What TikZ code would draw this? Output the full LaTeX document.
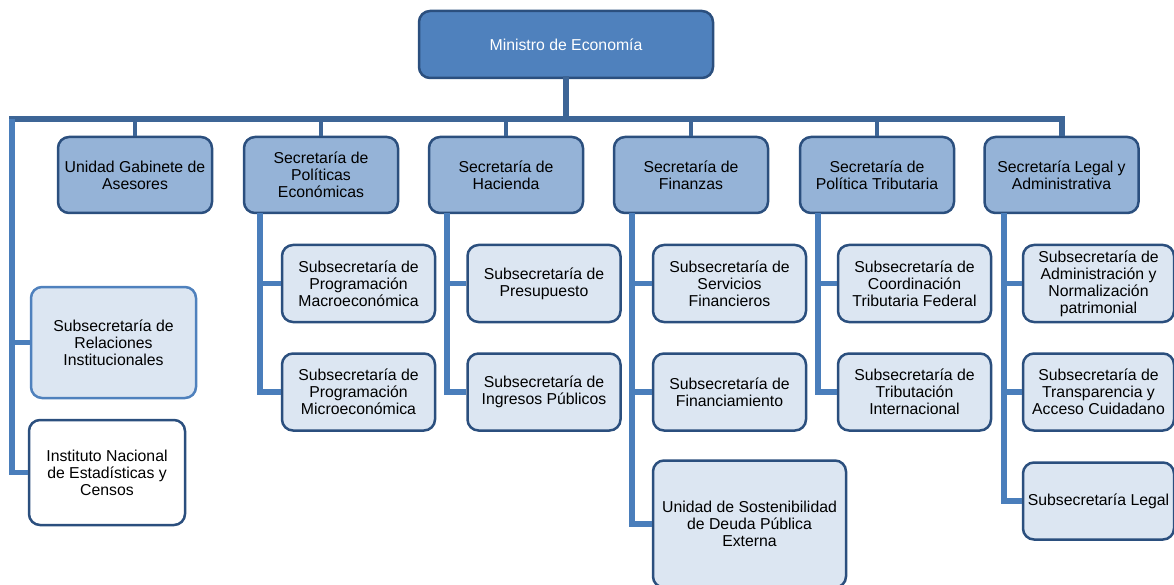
\documentclass[tikz,border=0pt]{standalone}
\usepackage{fontspec}
\setmainfont{Liberation Sans}
\definecolor{busc}{HTML}{3D6596}
\definecolor{linec}{HTML}{4A7EBB}
\definecolor{bordc}{HTML}{2B4F7E}
\definecolor{minfill}{HTML}{4F81BD}
\definecolor{secfill}{HTML}{95B3D7}
\definecolor{subfill}{HTML}{DCE6F2}
\definecolor{relbord}{HTML}{4F81BD}
\begin{document}
\begin{tikzpicture}[x=1pt,y=-1pt,
  box/.style={draw=bordc,line width=2.5pt,rounded corners=11pt,align=center,
    inner sep=0pt,font=\fontsize{15.8}{17}\selectfont},
  minbox/.style={box,fill=minfill,text=white,minimum width=294pt,minimum height=67pt},
  secbox/.style={box,fill=secfill,minimum width=154pt,minimum height=76pt},
  subbox/.style={box,fill=subfill,minimum width=153pt,minimum height=77pt},
  busline/.style={draw=busc,line width=6pt},
  dropline/.style={draw=busc,line width=4.5pt},
  childline/.style={draw=linec,line width=5.5pt}]
\useasboundingbox (0,0) rectangle (1174,585);
\clip (0,0) rectangle (1174,585);

% Minister
\node[minbox] (min) at (566,44.5) {Ministro de Economía};

% Secretarías
\node[secbox] (gab)  at (135,175)   {Unidad Gabinete de\\Asesores};
\node[secbox] (pol)  at (321,175)   {Secretaría de\\Políticas\\Económicas};
\node[secbox] (hac)  at (506,175)   {Secretaría de\\Hacienda};
\node[secbox] (fin)  at (691,175)   {Secretaría de\\Finanzas};
\node[secbox] (trib) at (877,175)   {Secretaría de\\Política Tributaria};
\node[secbox] (leg)  at (1061.5,175){Secretaría Legal y\\Administrativa};

% Subsecretarías
\node[subbox] (pmac) at (358.5,283.5) {Subsecretaría de\\Programación\\Macroeconómica};
\node[subbox] (pmic) at (358.5,392)   {Subsecretaría de\\Programación\\Microeconómica};
\node[subbox] (pres) at (544,283.5)   {Subsecretaría de\\Presupuesto};
\node[subbox] (ingr) at (544,392)     {Subsecretaría de\\Ingresos Públicos};
\node[subbox] (serv) at (729.5,283.5) {Subsecretaría de\\Servicios\\Financieros};
\node[subbox] (fina) at (729.5,392)   {Subsecretaría de\\Financiamiento};
\node[subbox,minimum width=193pt,minimum height=127pt] (sost) at (749.5,524)
  {Unidad de Sostenibilidad\\de Deuda Pública\\Externa};
\node[subbox] (coor) at (914.5,283.5) {Subsecretaría de\\Coordinación\\Tributaria Federal};
\node[subbox] (tint) at (914.5,392)   {Subsecretaría de\\Tributación\\Internacional};
\node[subbox,minimum width=151pt] (adm)  at (1098.5,283.5) {Subsecretaría de\\Administración y\\Normalización\\patrimonial};
\node[subbox,minimum width=151pt] (tran) at (1098.5,392)   {Subsecretaría de\\Transparencia y\\Acceso Cuidadano};
\node[subbox,minimum width=151pt] (sleg) at (1098.5,501)   {Subsecretaría Legal};

% Left column
\node[subbox,draw=relbord,minimum width=165pt,minimum height=111pt] (rel) at (113.5,342.5)
  {Subsecretaría de\\Relaciones\\Institucionales};
\node[subbox,fill=white,minimum width=156pt,minimum height=105pt] (inst) at (107,472.5)
  {Instituto Nacional\\de Estadísticas y\\Censos};

% Bus
\coordinate (busl) at (12,119);
\draw[busline,line cap=rect] (min.south) -- (min.south |- busl);
\draw[busline] (9,119) -- (leg.north |- busl) -- (leg.north);
\foreach \n in {gab,pol,hac,fin,trib}
  \draw[dropline] (\n.north |- busl) -- (\n.north);

% Left branch
\draw[childline] (busl) |- (rel.west);
\draw[childline] (busl) |- (inst.west);

% Child branches
\coordinate (polv)  at (260,213);
\coordinate (hacv)  at (447,213);
\coordinate (finv)  at (632,213);
\coordinate (tribv) at (818,213);
\coordinate (legv)  at (1004,213);
\draw[childline] (polv) |- (pmac.west);
\draw[childline] (polv) |- (pmic.west);
\draw[childline] (hacv) |- (pres.west);
\draw[childline] (hacv) |- (ingr.west);
\draw[childline] (finv) |- (serv.west);
\draw[childline] (finv) |- (fina.west);
\draw[childline] (finv) |- (sost.west);
\draw[childline] (tribv) |- (coor.west);
\draw[childline] (tribv) |- (tint.west);
\draw[childline] (legv) |- (adm.west);
\draw[childline] (legv) |- (tran.west);
\draw[childline] (legv) |- (sleg.west);
\end{tikzpicture}
\end{document}
